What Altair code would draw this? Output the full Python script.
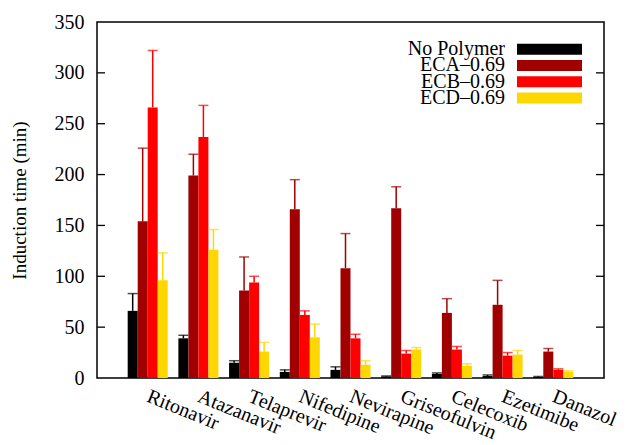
import altair as alt
import pandas as pd

drugs = ["Ritonavir", "Atazanavir", "Telaprevir", "Nifedipine", "Nevirapine",
         "Griseofulvin", "Celecoxib", "Ezetimibe", "Danazol"]
series = ["No Polymer", "ECA–0.69", "ECB–0.69", "ECD–0.69"]
colors = ["#000000", "#a00000", "#ff0000", "#ffd700"]

no_poly = [66, 39, 15, 6, 8, 1.5, 4, 2, 1]
no_poly_err = [17, 3, 2, 2, 3, 0.5, 1, 1, 0.5]
eca = [154, 199, 86, 166, 108, 167, 64, 72, 26]
eca_err = [72, 21, 33, 29, 34, 21, 14, 24, 3]
ecb = [266, 237, 94, 62, 39, 24, 28, 22, 8]
ecb_err = [56, 31, 6, 4, 4, 3, 3, 3, 1]
ecd = [96, 126, 26, 40, 13, 28, 12, 23, 6]
ecd_err = [27, 20, 9, 13, 4, 2, 2, 4, 1]

y_ticks = [50, 100, 150, 200, 250, 300]

rows = []
for s, vals, errs in zip(series, [no_poly, eca, ecb, ecd],
                         [no_poly_err, eca_err, ecb_err, ecd_err]):
    for d, v, e in zip(drugs, vals, errs):
        rows.append({"drug": d, "series": s, "value": v, "top": v + e})
df = pd.DataFrame(rows)

FONT = "Times New Roman"
W, H = 507, 356

x_enc = alt.X("drug:N", sort=drugs,
              scale=alt.Scale(paddingInner=0.21, paddingOuter=0.605),
              axis=alt.Axis(title=None, labelAngle=22, labelAlign="left",
                            labelBaseline="top", labelPadding=8, labelOffset=4,
                            ticks=False, domain=False, labelFont=FONT,
                            labelFontSize=20, labelColor="black"))
xo_enc = alt.XOffset("series:N", sort=series,
                     scale=alt.Scale(domain=series, paddingInner=0, paddingOuter=0))
color_enc = alt.Color("series:N", scale=alt.Scale(domain=series, range=colors), legend=None)
y_scale = alt.Scale(domain=[0, 350], nice=False)

base = alt.Chart(df)
bars = base.mark_bar(size=10).encode(
    x=x_enc, xOffset=xo_enc, color=color_enc,
    y=alt.Y("value:Q", scale=y_scale,
            axis=alt.Axis(values=[0, 50, 100, 150, 200, 250, 300, 350],
                          tickSize=0, domain=False, grid=False, labelPadding=13,
                          labelFont=FONT, labelFontSize=20, labelColor="black",
                          title="Induction time (min)", titleFont=FONT,
                          titleFontSize=19, titleFontWeight="normal",
                          titleColor="black", titleX=-78, titleY=H / 2,
                          titleAngle=-90, titleAlign="center",
                          titleBaseline="middle")),
)
rules = base.mark_rule(strokeWidth=1.5).encode(
    x=x_enc, xOffset=xo_enc, color=color_enc,
    y=alt.Y("value:Q", scale=y_scale), y2="top:Q")
caps = base.mark_tick(size=10, thickness=1.5, orient="horizontal").encode(
    x=x_enc, xOffset=xo_enc, color=color_enc,
    y=alt.Y("top:Q", scale=y_scale))

tdf = pd.DataFrame({"t": y_ticks})
tick_l = alt.Chart(tdf).mark_rule(color="black", strokeWidth=1.3).encode(
    x=alt.value(0), x2=alt.value(8), y=alt.Y("t:Q", scale=y_scale))
tick_r = alt.Chart(tdf).mark_rule(color="black", strokeWidth=1.3).encode(
    x=alt.value(W - 8), x2=alt.value(W), y=alt.Y("t:Q", scale=y_scale))

main = alt.layer(bars, rules, caps, tick_l, tick_r)

ldf = pd.DataFrame({"series": series})
ly = alt.Y("series:N", sort=series,
           scale=alt.Scale(type="point", domain=series, range=[19, 84]), axis=None)
leg_text = alt.Chart(ldf).mark_text(align="right", baseline="middle", font=FONT,
                                    fontSize=20, color="black").encode(
    x=alt.value(408), y=ly, text="series:N")
leg_sw = alt.Chart(ldf).mark_bar(height=11).encode(
    x=alt.value(420), x2=alt.value(485), y=ly, color=color_enc)
legend = alt.layer(leg_text, leg_sw)

chart = alt.layer(main, legend).resolve_scale(y="independent").properties(
    width=W, height=H,
    autosize=alt.AutoSizeParams(type="none"),
    padding={"left": 97, "top": 22, "right": 23, "bottom": 67},
    background="white",
).configure(font=FONT).configure_view(stroke="black", strokeWidth=1.5)

chart.save("out.html", embed_options={"renderer": "svg", "actions": False})
